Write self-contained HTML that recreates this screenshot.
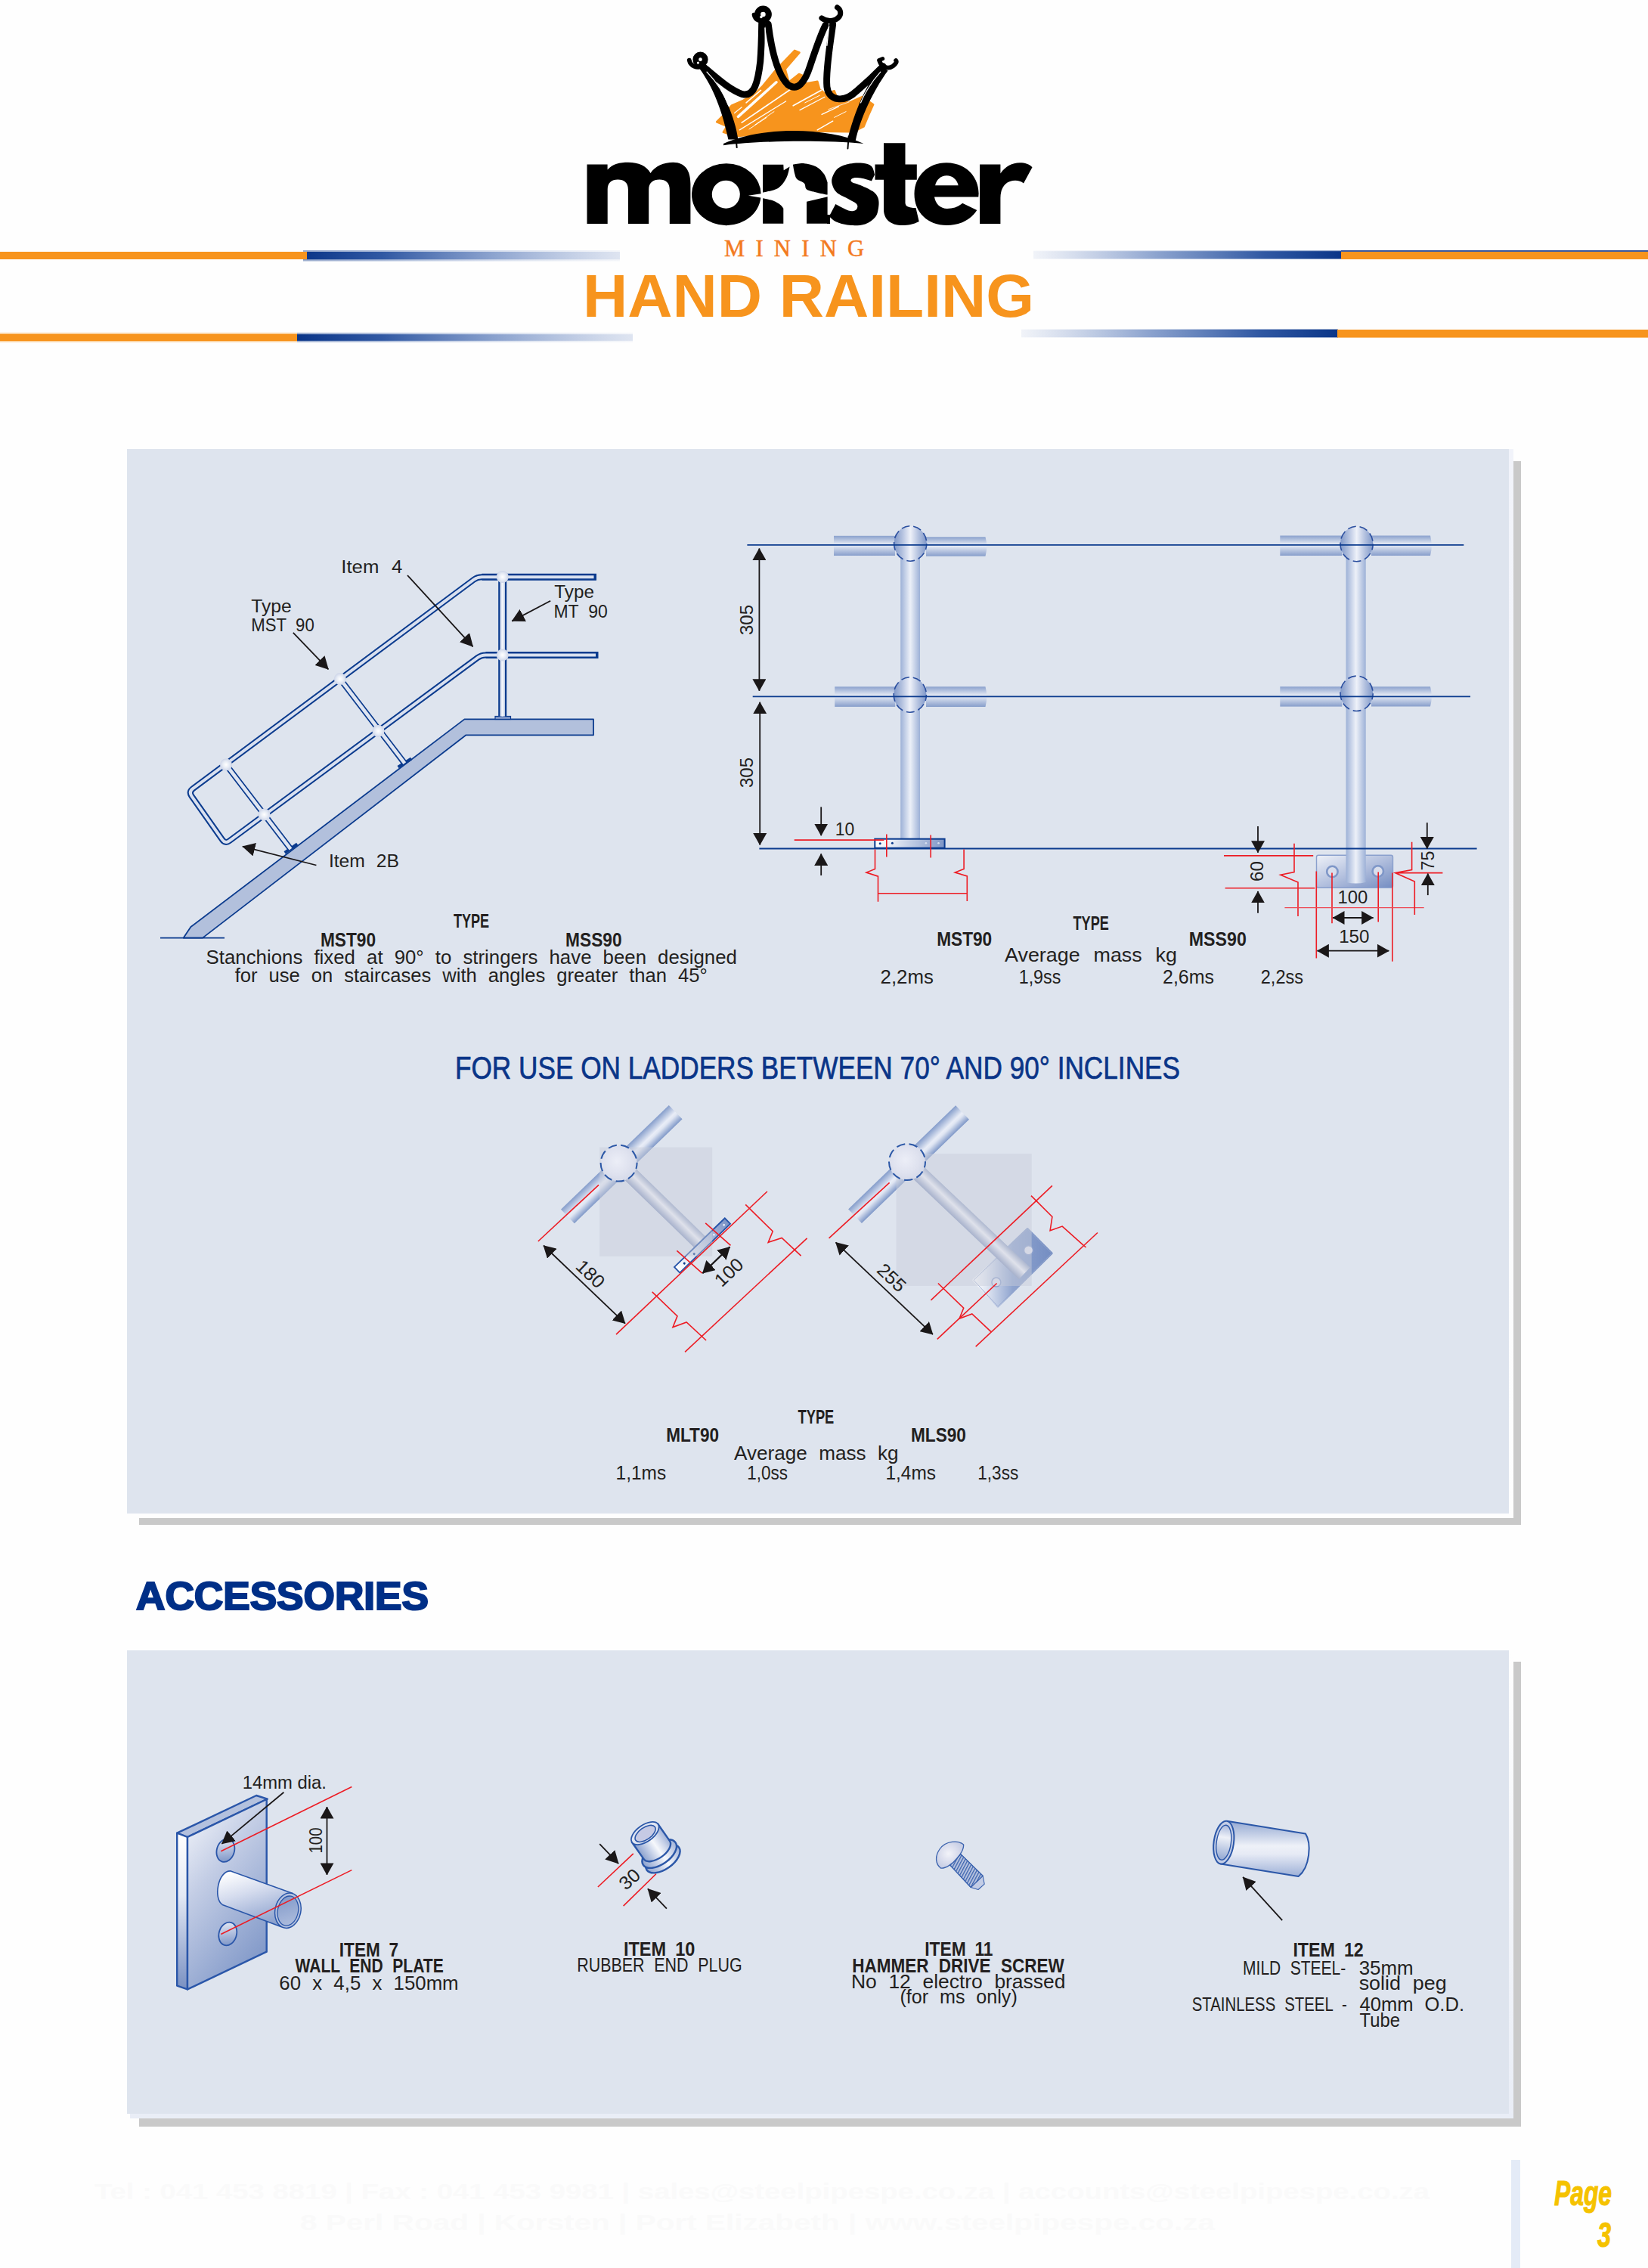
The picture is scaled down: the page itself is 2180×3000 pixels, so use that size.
<!DOCTYPE html>
<html><head><meta charset="utf-8"><title>Hand Railing</title>
<style>
html,body{margin:0;padding:0;background:#fefefe;}
body{width:2180px;height:3000px;overflow:hidden;position:relative;font-family:"Liberation Sans",sans-serif;}
svg{position:absolute;left:0;top:0;display:block;}
text{font-family:"Liberation Sans",sans-serif;fill:#231f20;}
.b{font-weight:bold;}
.red{stroke:#ed1c24;stroke-width:1.6;fill:none;}
.blk{stroke:#1a1718;stroke-width:1.8;fill:none;}
.bl{stroke:#1c3f94;fill:none;}
</style></head><body>
<svg width="2180" height="3000" viewBox="0 0 2180 3000">
<defs>
<linearGradient id="gLR" x1="0" x2="1" y1="0" y2="0"><stop offset="0" stop-color="#0a3588"/><stop offset="0.25" stop-color="#2a53a0" stop-opacity="0.95"/><stop offset="0.6" stop-color="#5b7cba" stop-opacity="0.6"/><stop offset="1" stop-color="#9db0d6" stop-opacity="0.25"/></linearGradient>
<linearGradient id="gRL" x1="1" x2="0" y1="0" y2="0"><stop offset="0" stop-color="#0a3588"/><stop offset="0.25" stop-color="#2a53a0" stop-opacity="0.95"/><stop offset="0.6" stop-color="#5b7cba" stop-opacity="0.6"/><stop offset="1" stop-color="#9db0d6" stop-opacity="0.1"/></linearGradient>
<linearGradient id="gS1" x1="0" x2="0" y1="0" y2="1"><stop offset="0" stop-color="#f1f3fa"/><stop offset="1" stop-color="#fefefe"/></linearGradient>
<linearGradient id="gS2" x1="0" x2="0" y1="0" y2="1"><stop offset="0" stop-color="#fefefe"/><stop offset="1" stop-color="#e9edf6"/></linearGradient>
</defs>

<!-- HEADER LINES -->
<g id="hdrlines">
<rect x="401" y="331" width="419" height="14.5" fill="url(#gLR)" opacity="0.4"/>
<rect x="401" y="333" width="419" height="10.2" fill="url(#gLR)"/>
<rect x="0" y="333" width="406" height="10" fill="#f7941d"/>
<rect x="393" y="440" width="444" height="12.6" fill="url(#gLR)" opacity="0.4"/>
<rect x="393" y="442.2" width="444" height="8.6" fill="url(#gLR)"/>
<rect x="0" y="440" width="393" height="12.6" fill="#fbd3a1"/>
<rect x="0" y="442" width="393" height="9" fill="#f7941d"/>
<rect x="1367" y="331" width="407" height="12" fill="url(#gRL)" opacity="0.4"/>
<rect x="1367" y="332.2" width="407" height="10" fill="url(#gRL)"/>
<rect x="1774" y="331" width="406" height="3" fill="#3a5aa0"/>
<rect x="1774" y="333" width="406" height="10" fill="#f7941d"/>
<rect x="1351" y="435" width="419" height="12" fill="url(#gRL)" opacity="0.4"/>
<rect x="1351" y="436" width="419" height="10" fill="url(#gRL)"/>
<rect x="1769" y="436" width="411" height="10.6" fill="#f7941d"/>
</g>

<!-- HEADER TEXT -->
<text x="771" y="419" font-size="80" class="b" style="fill:#f7941d" textLength="597" lengthAdjust="spacingAndGlyphs">HAND RAILING</text>
<text x="958" y="339" font-size="30.5" style="font-family:'Liberation Serif',serif;fill:#f37a1f;stroke:#f37a1f;stroke-width:0.5" textLength="185" lengthAdjust="spacing">MINING</text>

<!-- PANELS -->
<g id="panels">
<rect x="2002" y="610" width="10" height="1407" fill="#c9c9c9"/>
<rect x="184" y="2008" width="1828" height="9" fill="#c9c9c9"/>
<rect x="168" y="594" width="1828" height="1408" fill="#dee4ee"/>
<rect x="1996" y="594" width="6" height="1408" fill="url(#gS1)"/>

<rect x="2002" y="2198" width="10" height="615" fill="#c9c9c9"/>
<rect x="184" y="2802" width="1828" height="11" fill="#c9c9c9"/>
<rect x="168" y="2183" width="1828" height="613" fill="#dee4ee"/>
<rect x="1996" y="2183" width="6" height="619" fill="url(#gS2)"/>
<rect x="172" y="2796" width="1830" height="6.2" fill="#e9edf6"/>
</g>

<!-- ACCESSORIES heading -->
<text x="180" y="2129" font-size="51.5" class="b" style="fill:#002f87;stroke:#002f87;stroke-width:2.2" textLength="387" lengthAdjust="spacingAndGlyphs">ACCESSORIES</text>

<!-- FOOTER -->
<g id="foottext" font-size="29" class="b" style="fill:#f8f8f8">
<text x="125" y="2909" class="b" style="fill:#fafafa" textLength="1766" lengthAdjust="spacingAndGlyphs">Tel : 041 453 8819  |  Fax : 041 453 9981  |  sales@steelpipespe.co.za | accounts@steelpipespe.co.za</text>
<text x="397" y="2950" class="b" style="fill:#fafafa" textLength="1210" lengthAdjust="spacingAndGlyphs">8 Perl Road  |  Korsten  |  Port Elizabeth  |  www.steelpipespe.co.za</text>
</g>
<rect x="1999" y="2857" width="12" height="143" fill="#e4ebf7"/>
<text x="2132" y="2917" font-size="46" class="b" text-anchor="end" style="fill:#f5c200;font-style:italic;stroke:#f5c200;stroke-width:1.2" textLength="76" lengthAdjust="spacingAndGlyphs">Page</text>
<text x="2131" y="2972.4" font-size="46" class="b" text-anchor="end" style="fill:#f5c200;font-style:italic;stroke:#f5c200;stroke-width:1.2" textLength="18" lengthAdjust="spacingAndGlyphs">3</text>

<!--BEGIN LOGO-->
<g id="logo">
<g transform="translate(890,0) scale(0.194175)">
<path d="M300,830 L340,790 L400,720 L480,685 L560,640 L610,590 L700,480 L830,345 L862,358 L765,470 L790,560 L860,505 L895,520 L880,575 L985,555 L1000,610 L1040,640 L1100,620 L1120,670 L1200,700 L1290,660 L1365,712 L1330,790 L1300,862 L1240,892 L1200,897 L820,892 L430,928 L345,900 L370,860 Z" fill="#f7941d" stroke="#f7941d" stroke-width="14" stroke-linejoin="round"/>
<path d="M445,795 L705,560" stroke="#fefefe" stroke-width="18" stroke-linecap="round"/>
<path d="M500,700 L600,615" stroke="#fefefe" stroke-width="8" stroke-linecap="round"/>
<path d="M560,850 L690,760" stroke="#fefefe" stroke-width="5" stroke-linecap="round"/>
<path d="M900,700 L1000,650" stroke="#fefefe" stroke-width="5" stroke-linecap="round"/>
<path d="M1100,800 L1180,760" stroke="#fefefe" stroke-width="5" stroke-linecap="round"/>
<path d="M470,835 L800,610" stroke="#fefefe" stroke-width="9" stroke-linecap="round"/>
<path d="M455,885 L770,690" stroke="#fefefe" stroke-width="7" stroke-linecap="round"/>
<path d="M520,880 L640,800" stroke="#fefefe" stroke-width="5" stroke-linecap="round"/>
<path d="M820,720 L1010,615" stroke="#fefefe" stroke-width="9" stroke-linecap="round"/>
<path d="M865,750 L1035,660" stroke="#fefefe" stroke-width="6" stroke-linecap="round"/>
<path d="M1015,780 L1130,725" stroke="#fefefe" stroke-width="7" stroke-linecap="round"/>
<path d="M985,885 L1090,825" stroke="#fefefe" stroke-width="8" stroke-linecap="round"/>
<path d="M420,770 L470,730" stroke="#fefefe" stroke-width="6" stroke-linecap="round"/>
<path d="M1060,745 L1200,695" stroke="#fefefe" stroke-width="4" stroke-linecap="round"/>
<path d="M180,465 C250,560 325,700 378,950 L445,950 C425,800 345,620 228,452 Z" fill="#000"/>
<path d="M1420,452 C1325,560 1235,760 1190,955 L1245,958 C1280,800 1365,620 1465,482 Z" fill="#000"/>
<path d="M212,458 C300,530 390,615 475,642 C555,660 580,560 596,420 C604,320 605,230 606,160" fill="none" stroke="#000" stroke-width="46" stroke-linecap="round" stroke-linejoin="round"/>
<path d="M650,165 C672,340 715,510 785,578 C850,625 900,560 935,450 C975,330 1010,230 1040,172" fill="none" stroke="#000" stroke-width="46" stroke-linecap="round" stroke-linejoin="round"/>
<path d="M1090,165 C1072,300 1040,480 1050,590 C1060,690 1170,700 1250,622 C1325,558 1395,490 1432,452" fill="none" stroke="#000" stroke-width="46" stroke-linecap="round" stroke-linejoin="round"/>
<path d="M628,190 L633,330" stroke="#fefefe" stroke-width="7" stroke-linecap="round"/>
<path d="M1064,180 L1050,310" stroke="#fefefe" stroke-width="7" stroke-linecap="round"/>
<circle cx="615" cy="98" r="38" fill="none" stroke="#000" stroke-width="42"/>
<circle cx="602" cy="116" r="9" fill="#fefefe"/>
<path d="M553,100 C560,140 600,152 628,138" fill="none" stroke="#000" stroke-width="28" stroke-linecap="round"/>
<circle cx="188" cy="405" r="32" fill="none" stroke="#000" stroke-width="40"/>
<circle cx="172" cy="428" r="8" fill="#fefefe"/>
<path d="M112,410 C120,450 165,468 205,450" fill="none" stroke="#000" stroke-width="30" stroke-linecap="round"/>
<path d="M1014,123 C1050,150 1105,150 1135,112 C1150,88 1140,62 1120,50" fill="none" stroke="#000" stroke-width="36" stroke-linecap="round"/>
<path d="M1408,415 C1420,455 1465,475 1500,450 C1520,435 1528,420 1520,412" fill="none" stroke="#000" stroke-width="30" stroke-linecap="round"/>
<path d="M1405,410 L1430,400" stroke="#000" stroke-width="26" stroke-linecap="round"/>
<path d="M345,978 C600,862 1050,862 1300,978 C1050,955 600,955 345,990 Z" fill="#000"/>
<path d="M430,930 L436,1005 M1198,930 L1192,1012" stroke="#000" stroke-width="10" stroke-linecap="round"/>
<path d="M232,490 C300,560 350,640 380,720" fill="none" stroke="#fefefe" stroke-width="7" stroke-linecap="round"/>
<path d="M1415,490 C1350,560 1300,650 1280,700" fill="none" stroke="#fefefe" stroke-width="6" stroke-linecap="round"/>
</g>
<g fill="#000">
<path d="M776.5,296 V217.6 H803.6 V224.5 C810,217 820,214.8 831,214.8 C845,214.8 855,219.5 860.5,229 C867,219.5 878,214.8 890.5,214.8 C907,214.8 913.4,227 913.4,243 V296 H885.8 V250.5 C885.8,241.5 880.5,237.4 872.3,237.4 C864,237.4 858.2,241.5 858.2,250.5 V296 H830.9 V250.5 C830.9,241.5 825.5,237.4 817.3,237.4 C809,237.4 803.7,241.5 803.7,250.5 V296 Z"/>
<path fill-rule="evenodd" d="M915,257.2 a45.8,41 0 1 0 91.6,0 a45.8,41 0 1 0 -91.6,0 Z M941.8,257.2 a18.5,18.5 0 1 1 37,0 a18.5,18.5 0 1 1 -37,0 Z"/>
<path d="M989.9,258.7 L1009.3,255.8 L1009.3,261.9 Z" fill="#fefefe"/>
<path d="M1009.1,217.7 L1036.3,217.7 L1036.7,225.2 L1044.6,220.5 C1043.9,223.0 1042.8,230.8 1040.2,235.5 C1037.6,240.2 1034.4,245.7 1029.2,248.9 C1024.0,252.1 1012.5,253.8 1009.1,254.8 Z"/>
<path d="M1009.1,262.3 C1011.4,262.8 1019.0,264.1 1022.9,265.5 C1026.8,266.9 1030.1,269.3 1032.3,271.0 C1034.5,272.7 1035.6,274.9 1036.3,275.7 L1036.3,295.8 L1009.1,295.8 Z"/>
<path d="M1048.9,217.7 C1051.4,217.4 1058.8,215.7 1063.9,216.2 C1069.0,216.7 1075.4,218.2 1079.7,220.5 C1084.0,222.8 1087.4,226.6 1089.9,230.0 C1092.4,233.4 1093.8,239.2 1094.6,241.0 L1094.6,257.6 C1092.1,257.1 1084.3,255.6 1079.7,254.4 C1075.1,253.2 1069.6,252.5 1067.0,250.5 C1064.4,248.5 1066.0,244.8 1063.9,242.6 C1061.8,240.4 1056.5,239.2 1054.4,237.1 C1052.3,235.0 1052.2,233.2 1051.3,230.0 C1050.4,226.8 1049.3,219.8 1048.9,217.7 Z"/>
<path d="M1067,266.7 L1094.6,260.3 L1094.6,295.8 L1067,295.8 Z"/>
<path d="M1157.1,231.0 C1156.4,229.2 1155.6,222.5 1152.9,219.9 C1150.2,217.3 1145.8,216.3 1141.0,215.7 C1136.2,215.1 1129.4,215.4 1124.0,216.5 C1118.6,217.6 1112.5,219.5 1108.7,222.5 C1104.9,225.5 1102.3,230.7 1101.0,234.4 C1099.7,238.1 1100.0,241.2 1101.0,244.6 C1102.0,248.0 1103.5,251.7 1107.0,254.8 C1110.5,257.9 1118.0,260.9 1122.3,263.3 C1126.5,265.7 1130.5,267.4 1132.5,269.2 C1134.5,271.0 1134.5,272.8 1134.2,274.3 C1133.9,275.9 1132.8,277.8 1130.8,278.5 C1128.8,279.2 1126.5,279.9 1122.3,278.5 C1118.0,277.1 1108.1,271.4 1105.3,270.0 L1096.8,286.2 C1098.5,287.5 1102.2,291.8 1107.0,293.8 C1111.8,295.8 1119.5,297.7 1125.7,298.1 C1131.9,298.5 1139.0,298.2 1144.4,296.4 C1149.8,294.5 1155.0,290.8 1158.0,287.0 C1161.0,283.2 1161.6,277.7 1162.2,273.5 C1162.8,269.3 1162.7,265.0 1161.4,261.6 C1160.1,258.2 1158.3,255.8 1154.6,253.1 C1150.9,250.4 1143.8,247.4 1139.3,245.4 C1134.8,243.4 1129.7,242.5 1127.4,241.2 C1125.1,239.9 1125.3,238.8 1125.7,237.8 C1126.1,236.8 1127.4,235.5 1129.9,235.2 C1132.5,234.9 1137.2,235.4 1141.0,236.1 C1144.8,236.8 1150.9,238.9 1152.9,239.5 Z"/>
<path d="M1094,284 L1098,284 L1098,296 L1094,296 Z"/>
<path d="M1169,189.3 H1197.5 V217.4 H1212.8 V237.8 H1197.5 V268.4 C1198,273 1201,274.5 1211.5,275.1 L1215.7,293 C1208,297 1201,298.1 1194,298.1 C1178,298.1 1169,290 1169,277 V237.8 H1157.5 V217.4 H1169 Z"/>
<path fill-rule="evenodd" d="M1294.3,260.6 H1236 C1237.5,270 1244,276 1253,276 C1261,276 1267.5,273.5 1273.2,268.8 L1292.3,278.1 C1284,291 1270,298 1252.5,298 C1227,298 1209.5,280.5 1209.5,256.7 C1209.5,233 1227.5,215.2 1252,215.2 C1277,215.2 1294.6,233 1294.6,256 Z M1237.1,245.3 H1267.7 C1266,237.5 1260,232.2 1252.4,232.2 C1244.5,232.2 1238.8,237.5 1237.1,245.3 Z"/>
<path d="M1296.1,217.5 H1323.4 V229.5 C1330,220 1339,215.3 1349,215.3 C1356,215.3 1361.6,217 1365.5,221.3 L1354,242.6 C1351,240 1347.5,238.8 1343,238.8 C1331,238.8 1323.4,247.5 1323.4,262 V296.1 H1296.1 Z"/>
</g>
</g>
<!--END LOGO-->
<!--BEGIN DIAG1-->
<g id="diag1">
<defs>
<radialGradient id="ball"><stop offset="0" stop-color="#ffffff"/><stop offset="0.55" stop-color="#e6ebf5"/><stop offset="1" stop-color="#cdd5e8"/></radialGradient>
<marker id="ah" viewBox="0 0 17 18" refX="16.5" refY="9" markerWidth="17" markerHeight="18" markerUnits="userSpaceOnUse" orient="auto"><path d="M0,0 L17,9 L0,18 Z" fill="#1a1718"/></marker>
</defs>
<!-- stringer -->
<path d="M242.7,1240.6 L252.4,1226 L614.4,951.4 L785,951.4 L785,972.3 L616.5,972.3 L268,1240.6 Z" fill="#b2c0dc" stroke="#0b3b8e" stroke-width="1.8" stroke-linejoin="round"/>
<line x1="212" y1="1240.6" x2="297" y2="1240.6" stroke="#0b3b8e" stroke-width="1.6"/>
<!-- base plates -->
<path d="M526.6,1014.6 L544.1,1003.5" stroke="#0b3b8e" stroke-width="4"/>
<path d="M376.7,1128 L393.2,1116.3" stroke="#0b3b8e" stroke-width="4"/>
<rect x="655" y="947.5" width="20.5" height="4" fill="#7f96c6" stroke="#0b3b8e" stroke-width="1.2"/>
<!-- posts -->
<g fill="none" stroke-linecap="butt">
<path d="M449.9,898.1 L535.3,1009.7 M299,1011.5 L384.5,1123.1" stroke="#0b3b8e" stroke-width="8"/>
<path d="M449.9,898.1 L535.3,1009.7 M299,1011.5 L384.5,1123.1" stroke="#dfe5f1" stroke-width="4.6"/>
<path d="M664.7,763 L664.7,947.5" stroke="#0b3b8e" stroke-width="11"/>
<path d="M664.7,763 L664.7,947.5" stroke="#d9e0ef" stroke-width="6.4"/>
<path d="M664.7,763 L664.7,947.5" stroke="#f1f4fa" stroke-width="2.4"/>
</g>
<!-- rails -->
<g fill="none" stroke-linejoin="round">
<path d="M788,763.3 L637.3,763.3 Q631.3,763.3 626.5,766.9 L255.1,1043.2 Q249.5,1047.4 253.5,1053.1 L294,1110.6 Q298,1116.3 303.6,1112.1 L631.7,870 Q636.5,866.4 642.5,866.4 L790.5,866.4" stroke="#0b3b8e" stroke-width="8"/>
<path d="M789,763.3 L637.3,763.3 M642.5,866.4 L791.5,866.4" stroke="#0b3b8e" stroke-width="9"/>
<path d="M785.5,763.3 L637.3,763.3 Q631.3,763.3 626.5,766.9 L255.1,1043.2 Q249.5,1047.4 253.5,1053.1 L294,1110.6 Q298,1116.3 303.6,1112.1 L631.7,870 Q636.5,866.4 642.5,866.4 L788,866.4" stroke="#d9e0ef" stroke-width="4"/>
</g>
<!-- joints -->
<g fill="url(#ball)">
<circle cx="664.7" cy="763" r="8"/><circle cx="664.7" cy="866.4" r="8"/>
<circle cx="449.9" cy="898.1" r="8"/><circle cx="500.4" cy="967" r="8"/>
<circle cx="299" cy="1011.5" r="8"/><circle cx="349.5" cy="1077.5" r="8"/>
</g>
<!-- arrows -->
<g class="blk" marker-end="url(#ah)">
<path d="M539,761 L625.6,855.3"/>
<path d="M387.8,836.9 L434.4,885.4"/>
<path d="M728.2,794.8 L677.2,821.6"/>
<path d="M418.4,1144.5 L320.8,1119.6"/>
</g>
<!-- labels -->
<g font-size="24.5">
<text x="451.3" y="758.4" textLength="81" lengthAdjust="spacingAndGlyphs" style="word-spacing:9px">Item 4</text>
<text x="332.2" y="810.3" textLength="53.6" lengthAdjust="spacingAndGlyphs">Type</text>
<text x="332.2" y="834.9" textLength="83.6" lengthAdjust="spacingAndGlyphs" style="word-spacing:7px">MST 90</text>
<text x="733.3" y="791.4" textLength="52.7" lengthAdjust="spacingAndGlyphs">Type</text>
<text x="732.4" y="816.8" textLength="71.4" lengthAdjust="spacingAndGlyphs" style="word-spacing:7px">MT 90</text>
<text x="434.9" y="1146.5" textLength="93" lengthAdjust="spacingAndGlyphs" style="word-spacing:8px">Item 2B</text>
</g>
<g font-size="26">
<text class="b" x="599.9" y="1226.8" textLength="47.2" lengthAdjust="spacingAndGlyphs">TYPE</text>
<text class="b" x="423.9" y="1251.5" textLength="73.2" lengthAdjust="spacingAndGlyphs">MST90</text>
<text class="b" x="748.1" y="1251.5" textLength="74.5" lengthAdjust="spacingAndGlyphs">MSS90</text>
<text x="272.6" y="1275.3" textLength="702.3" lengthAdjust="spacingAndGlyphs" style="word-spacing:8px">Stanchions fixed at 90° to stringers have been designed</text>
<text x="310.7" y="1299.1" textLength="625" lengthAdjust="spacingAndGlyphs" style="word-spacing:8px">for use on staircases with angles greater than 45°</text>
</g>
</g>
<!--END DIAG1-->

<!--BEGIN DIAG2-->
<g id="diag2">
<defs>
<linearGradient id="gV" x1="0" x2="1" y1="0" y2="0"><stop offset="0" stop-color="#9db1d7"/><stop offset="0.5" stop-color="#ecf0f8"/><stop offset="1" stop-color="#9db1d7"/></linearGradient>
<linearGradient id="gB" x1="0" x2="1" y1="0" y2="0"><stop offset="0" stop-color="#7f97c8"/><stop offset="0.25" stop-color="#b3c1df"/><stop offset="0.5" stop-color="#eef1f9"/><stop offset="0.75" stop-color="#b3c1df"/><stop offset="1" stop-color="#7f97c8"/></linearGradient>
<linearGradient id="gH" x1="0" x2="0" y1="0" y2="1"><stop offset="0" stop-color="#8aa1cd"/><stop offset="0.45" stop-color="#e9edf6"/><stop offset="1" stop-color="#879ecb"/></linearGradient>
<linearGradient id="gPl" x1="0" x2="1" y1="0" y2="0"><stop offset="0" stop-color="#ffffff"/><stop offset="0.25" stop-color="#e6ebf5"/><stop offset="1" stop-color="#7d95c6"/></linearGradient>
<linearGradient id="gPl2" x1="0" x2="1" y1="0" y2="1"><stop offset="0" stop-color="#eef1f8"/><stop offset="0.5" stop-color="#b3c0de"/><stop offset="1" stop-color="#748dc2"/></linearGradient>
<marker id="ah2" viewBox="0 0 16 18" refX="15.5" refY="9" markerWidth="16" markerHeight="18" markerUnits="userSpaceOnUse" orient="auto-start-reverse"><path d="M0,0 L16,9 L0,18 Z" fill="#1a1718"/></marker>
</defs>
<!-- left stanchion -->
<rect x="1103" y="708.8" width="81" height="26.2" fill="url(#gH)"/>
<path d="M1225,710.2 H1303.5 Q1307,723 1303.5,735.8 H1225 Z" fill="url(#gH)"/>
<rect x="1104.2" y="908.3" width="80" height="26.6" fill="url(#gH)"/>
<path d="M1225,908.3 H1303.5 Q1307,921.5 1303.5,934.9 H1225 Z" fill="url(#gH)"/>
<rect x="1191.2" y="725" width="25.8" height="385" fill="url(#gV)"/>
<ellipse cx="1204.2" cy="719" rx="21.6" ry="23.2" fill="url(#gB)" stroke="#2b4f9f" stroke-width="1.6" stroke-dasharray="11 5" stroke-dashoffset="3"/>
<ellipse cx="1203.8" cy="919" rx="21.6" ry="23.2" fill="url(#gB)" stroke="#2b4f9f" stroke-width="1.6" stroke-dasharray="11 5" stroke-dashoffset="3"/>
<rect x="1157.3" y="1109.7" width="92.3" height="12" fill="url(#gPl)" stroke="#0b3b8e" stroke-width="2"/>
<g fill="#0b3b8e"><circle cx="1164.2" cy="1115.8" r="1.5"/><circle cx="1180.4" cy="1115.2" r="1.5"/></g>
<g fill="#d7deee"><circle cx="1224.9" cy="1115.2" r="1.3"/><circle cx="1241.5" cy="1115.2" r="1.3"/></g>
<!-- right stanchion -->
<rect x="1693.3" y="708.5" width="82" height="26.5" fill="url(#gH)"/>
<path d="M1814,708.5 H1892 Q1895.5,722 1892,735 H1814 Z" fill="url(#gH)"/>
<rect x="1693.3" y="908.2" width="82" height="26.4" fill="url(#gH)"/>
<path d="M1814,908.2 H1892 Q1895.5,921.5 1892,934.6 H1814 Z" fill="url(#gH)"/>
<rect x="1741.5" y="1131.2" width="101" height="43" rx="2.5" fill="url(#gPl2)" stroke="#8aa0cd" stroke-width="1.4"/>
<circle cx="1762.4" cy="1153" r="7.2" fill="#d9deec" stroke="#7f97c8" stroke-width="2.6"/>
<circle cx="1822.8" cy="1152.5" r="7.2" fill="#d9deec" stroke="#7f97c8" stroke-width="2.6"/>
<path d="M1780.5,725 H1806.7 V1167 Q1793.6,1170 1780.5,1167 Z" fill="url(#gV)"/>
<ellipse cx="1794.6" cy="719.5" rx="21.6" ry="23.2" fill="url(#gB)" stroke="#2b4f9f" stroke-width="1.6" stroke-dasharray="11 5" stroke-dashoffset="3"/>
<ellipse cx="1794.6" cy="917.3" rx="21.6" ry="23.2" fill="url(#gB)" stroke="#2b4f9f" stroke-width="1.6" stroke-dasharray="11 5" stroke-dashoffset="3"/>
<!-- blue level lines -->
<g stroke="#0b3b8e" stroke-width="1.7">
<line x1="988.4" y1="720.8" x2="1936.3" y2="720.8"/>
<line x1="995.7" y1="921.3" x2="1945" y2="921.3"/>
<line x1="1004.4" y1="1122.5" x2="1953.6" y2="1122.5" stroke-width="2.1"/>
</g>
<!-- red dims left -->
<g class="red">
<path d="M1050.7,1111.1 H1169.4 M1172.8,1103.6 V1133.6 M1231.2,1104.4 V1134.4"/>
<path d="M1157.5,1123.4 V1149.4 L1146,1154.1 L1161.5,1159.2 V1192.8 M1275.1,1123.4 V1149.4 L1263.3,1154.1 L1279.3,1158.9 V1192 M1161.5,1181.7 H1279.3"/>
</g>
<!-- red dims right -->
<g class="red">
<path d="M1619,1131.9 H1737.2 M1620.6,1174.8 H1739.3"/>
<path d="M1712,1115.8 V1153.6 L1693.9,1157.3 L1717,1167 V1211.9"/>
<path d="M1741.3,1152.5 V1267.6 M1762,1154.6 V1221.2 M1823.2,1153.6 V1219.6 M1841.8,1154.6 V1271.8"/>
<path d="M1699.4,1200.6 H1883.7" stroke-width="1.1" stroke="#ee4a55"/>
<path d="M1867.6,1113.7 V1150.5 L1845.5,1154.6 L1871.3,1165.9 V1209.9 M1845.5,1154.6 H1908.4"/>
</g>
<!-- black dim arrows -->
<g class="blk">
<path d="M1004.4,725.5 V913.8" marker-start="url(#ah2)" marker-end="url(#ah2)"/>
<path d="M1005.2,928.7 V1117.6" marker-start="url(#ah2)" marker-end="url(#ah2)"/>
<path d="M1086.2,1067.4 V1105.2" marker-end="url(#ah2)"/>
<path d="M1086.2,1158 V1129.4" marker-end="url(#ah2)"/>
<path d="M1664,1093.1 V1127.8" marker-end="url(#ah2)"/>
<path d="M1664,1207.8 V1178.9" marker-end="url(#ah2)"/>
<path d="M1887.8,1088.2 V1122.6" marker-end="url(#ah2)"/>
<path d="M1888.8,1184.1 V1155.6" marker-end="url(#ah2)"/>
<path d="M1763,1214 H1816.6" marker-start="url(#ah2)" marker-end="url(#ah2)"/>
<path d="M1742.4,1257.7 H1837.3" marker-start="url(#ah2)" marker-end="url(#ah2)"/>
</g>
<!-- dim text -->
<g font-size="24.5">
<text transform="translate(996,840) rotate(-90)" textLength="40" lengthAdjust="spacingAndGlyphs">305</text>
<text transform="translate(996,1042) rotate(-90)" textLength="40" lengthAdjust="spacingAndGlyphs">305</text>
<text x="1104.7" y="1105.2" textLength="25.5" lengthAdjust="spacingAndGlyphs">10</text>
<text transform="translate(1671.2,1165.9) rotate(-90)" textLength="26.8" lengthAdjust="spacingAndGlyphs">60</text>
<text transform="translate(1897.1,1151.5) rotate(-90)" textLength="25.8" lengthAdjust="spacingAndGlyphs">75</text>
<text x="1769.6" y="1194.8" textLength="39.8" lengthAdjust="spacingAndGlyphs">100</text>
<text x="1771.2" y="1246.8" textLength="40.3" lengthAdjust="spacingAndGlyphs">150</text>
</g>
<!-- captions -->
<g font-size="26">
<text class="b" x="1419.5" y="1229.8" textLength="47.3" lengthAdjust="spacingAndGlyphs">TYPE</text>
<text class="b" x="1239.2" y="1250.7" textLength="73" lengthAdjust="spacingAndGlyphs">MST90</text>
<text class="b" x="1572.8" y="1250.5" textLength="76" lengthAdjust="spacingAndGlyphs">MSS90</text>
<text x="1329" y="1271.5" textLength="228" lengthAdjust="spacingAndGlyphs" style="word-spacing:10px">Average mass kg</text>
<text x="1164.6" y="1300.5" textLength="70.3" lengthAdjust="spacingAndGlyphs">2,2ms</text>
<text x="1347.7" y="1300.5" textLength="55.7" lengthAdjust="spacingAndGlyphs">1,9ss</text>
<text x="1538" y="1300.5" textLength="68" lengthAdjust="spacingAndGlyphs">2,6ms</text>
<text x="1667.8" y="1300.5" textLength="56.2" lengthAdjust="spacingAndGlyphs">2,2ss</text>
</g>
</g>
<!--END DIAG2-->
<!--BEGIN DIAG3-->
<g id="diag3">
<defs>
<linearGradient id="gT" x1="0" x2="0" y1="0" y2="1"><stop offset="0" stop-color="#859dcb"/><stop offset="0.5" stop-color="#e9edf7"/><stop offset="0.62" stop-color="#dfe5f2"/><stop offset="1" stop-color="#7f98c8"/></linearGradient>
<linearGradient id="gP" x1="0" x2="0" y1="0" y2="1"><stop offset="0" stop-color="#9aa8c8"/><stop offset="0.45" stop-color="#f2f3f9"/><stop offset="1" stop-color="#8c9bc0"/></linearGradient>
<radialGradient id="ball2" cx="0.45" cy="0.45" r="0.6"><stop offset="0" stop-color="#eceef7"/><stop offset="0.6" stop-color="#dfe2ef"/><stop offset="1" stop-color="#d3d8e8"/></radialGradient>
<linearGradient id="gPl3" x1="0" x2="1" y1="0" y2="0"><stop offset="0" stop-color="#ffffff"/><stop offset="0.3" stop-color="#dde3f1"/><stop offset="1" stop-color="#7b93c6"/></linearGradient>
<linearGradient id="gPl4" x1="0" x2="1" y1="0" y2="0"><stop offset="0" stop-color="#ffffff"/><stop offset="0.15" stop-color="#e4e9f4"/><stop offset="0.5" stop-color="#8fa4cf"/><stop offset="1" stop-color="#748dc2"/></linearGradient>
</defs>
<text x="602" y="1426.5" font-size="42" style="fill:#0a3588;stroke:#0a3588;stroke-width:0.7" textLength="959" lengthAdjust="spacingAndGlyphs">FOR USE ON LADDERS BETWEEN 70° AND 90° INCLINES</text>

<!-- left unit -->
<g transform="translate(750.9,1609) rotate(-44)"><rect x="0" y="-12.8" width="198.5" height="25.6" fill="url(#gT)"/></g>
<g transform="translate(818.6,1538.6) rotate(44.2)"><rect x="0" y="-10.5" width="150" height="21" fill="url(#gP)"/></g>
<g transform="translate(892,1676.1) rotate(-44.1)"><rect x="0" y="0" width="93" height="10.4" fill="url(#gPl3)" stroke="#2452a8" stroke-width="1.8"/>
<circle cx="13" cy="5.6" r="1.5" fill="#0b3b8e"/><circle cx="31" cy="5.6" r="1.5" fill="#0b3b8e"/><circle cx="67.5" cy="5.6" r="1.4" fill="#e8ecf6"/><circle cx="86" cy="5.6" r="1.4" fill="#e8ecf6"/></g>
<rect x="793.1" y="1517.5" width="149.1" height="144.3" fill="#c9ccd9" fill-opacity="0.46"/>
<circle cx="818.6" cy="1538.6" r="24" fill="url(#ball2)" stroke="#2b57a6" stroke-width="2" stroke-dasharray="11.5 5.5" stroke-dashoffset="4"/>
<g class="red">
<path d="M711.8,1642 L792,1567.4"/>
<path d="M815,1765.2 L1014.9,1576"/>
<path d="M906.1,1788.3 L1067.6,1637.8"/>
<path d="M933.2,1617.8 L966.5,1647.4 M895.4,1654.4 L928.8,1684.2"/>
<path d="M986.2,1593.4 L1022.2,1628.7 L1016.2,1643.4 L1034.2,1637.4 L1059.6,1661.1"/>
<path d="M862.7,1708.9 L896,1740.9 L890,1755.6 L908.1,1748.9 L934.1,1773"/>
</g>
<g class="blk">
<path d="M719,1647.5 L827,1750.7" marker-start="url(#ah2)" marker-end="url(#ah2)"/>
<path d="M929.4,1684.2 L965.5,1649.4" marker-start="url(#ah2)" marker-end="url(#ah2)" stroke-width="2.2"/>
</g>
<text font-size="24.5" transform="translate(781,1685) rotate(43.6)" text-anchor="middle" y="8.5" textLength="42" lengthAdjust="spacingAndGlyphs">180</text>
<text font-size="24.5" transform="translate(964.1,1682.8) rotate(-43.5)" text-anchor="middle" y="8.5" textLength="42" lengthAdjust="spacingAndGlyphs">100</text>

<!-- right unit -->
<g transform="translate(1131,1608.7) rotate(-44)"><rect x="0" y="-12.8" width="197.5" height="25.6" fill="url(#gT)"/></g>
<path d="M1359.1,1625.6 L1391.2,1657.7 L1320,1728.2 L1287.9,1693.3 Z" fill="url(#gPl4)" stroke="url(#gPl4)" stroke-width="3" stroke-linejoin="round"/>
<path d="M1359.1,1625.6 L1391.2,1657.7 L1320,1728.2 L1287.9,1693.3 Z" fill="none" stroke="#93a5cc" stroke-width="1" stroke-linejoin="round" stroke-opacity="0.8"/>
<circle cx="1360.5" cy="1653.8" r="6" fill="#dfe1ee" stroke="#8ea2cd" stroke-width="1.5"/>
<circle cx="1317.9" cy="1696.1" r="6" fill="#dfe1ee" stroke="#8ea2cd" stroke-width="1.5"/>
<g transform="translate(1200,1537) rotate(43.5)"><rect x="0" y="-10.8" width="214" height="21.6" fill="url(#gP)"/></g>
<rect x="1185.6" y="1526" width="179.1" height="175" fill="#c9ccd9" fill-opacity="0.46"/>
<circle cx="1200" cy="1537" r="24" fill="url(#ball2)" stroke="#2b57a6" stroke-width="2" stroke-dasharray="11.5 5.5" stroke-dashoffset="4"/>
<g class="red">
<path d="M1096.5,1637.8 L1176.6,1564.3"/>
<path d="M1231.4,1719.8 L1391.9,1568.4"/>
<path d="M1290.7,1781.2 L1451.9,1630.5"/>
<path d="M1239.8,1771.4 L1318.6,1697.5"/>
<path d="M1364,1581.6 L1391.9,1609.5 L1389.1,1627.7 L1405.2,1622.1 L1433.1,1647.2 L1436.6,1650"/>
<path d="M1240.9,1697.5 L1274.7,1730.3 L1269.1,1744.2 L1285.8,1738 L1311,1761.7"/>
</g>
<g class="blk">
<path d="M1105.5,1643.4 L1234,1765.2" marker-start="url(#ah2)" marker-end="url(#ah2)"/>
</g>
<text font-size="24.5" transform="translate(1179.5,1690) rotate(43.6)" text-anchor="middle" y="8.5" textLength="42" lengthAdjust="spacingAndGlyphs">255</text>

<!-- captions -->
<g font-size="26">
<text class="b" x="1055.6" y="1883" textLength="47.7" lengthAdjust="spacingAndGlyphs">TYPE</text>
<text class="b" x="881.2" y="1907.2" textLength="69.8" lengthAdjust="spacingAndGlyphs">MLT90</text>
<text class="b" x="1204.9" y="1907.2" textLength="73.1" lengthAdjust="spacingAndGlyphs">MLS90</text>
<text x="971" y="1931" textLength="217.5" lengthAdjust="spacingAndGlyphs" style="word-spacing:8px">Average mass kg</text>
<text x="814.6" y="1957" textLength="66.6" lengthAdjust="spacingAndGlyphs">1,1ms</text>
<text x="988.3" y="1957" textLength="53.7" lengthAdjust="spacingAndGlyphs">1,0ss</text>
<text x="1171.4" y="1957" textLength="66.6" lengthAdjust="spacingAndGlyphs">1,4ms</text>
<text x="1293.3" y="1957" textLength="53.9" lengthAdjust="spacingAndGlyphs">1,3ss</text>
</g>
</g>
<!--END DIAG3-->
<!--BEGIN ACC-->
<g id="acc">
<defs>
<linearGradient id="aFace" x1="0.2" x2="0.7" y1="0" y2="1"><stop offset="0" stop-color="#eef1f8"/><stop offset="0.35" stop-color="#c3cde5"/><stop offset="1" stop-color="#7e96c7"/></linearGradient>
<linearGradient id="aEdge" x1="0" x2="0" y1="0" y2="1"><stop offset="0" stop-color="#ffffff"/><stop offset="0.4" stop-color="#e3e8f4"/><stop offset="1" stop-color="#7990c2"/></linearGradient>
<linearGradient id="aTube" x1="0.2" x2="0.6" y1="0" y2="1"><stop offset="0" stop-color="#ffffff"/><stop offset="0.4" stop-color="#d5dcee"/><stop offset="1" stop-color="#8aa0cd"/></linearGradient>
<linearGradient id="aHole" x1="0.3" x2="0.6" y1="0" y2="1"><stop offset="0" stop-color="#e4e9f4"/><stop offset="0.5" stop-color="#b1bfde"/><stop offset="1" stop-color="#7f97c8"/></linearGradient>
<linearGradient id="aIn" x1="0" x2="0.4" y1="0" y2="1"><stop offset="0" stop-color="#7f97c8"/><stop offset="1" stop-color="#a9b9db"/></linearGradient>
<linearGradient id="pBody" x1="0" x2="1" y1="0" y2="0"><stop offset="0" stop-color="#8ba1ce"/><stop offset="0.3" stop-color="#c4cfe7"/><stop offset="0.55" stop-color="#f6f8fc"/><stop offset="0.8" stop-color="#c9d3e9"/><stop offset="1" stop-color="#9fb1d7"/></linearGradient>
<linearGradient id="t12" x1="0" x2="0" y1="0" y2="1"><stop offset="0" stop-color="#93a8d2"/><stop offset="0.45" stop-color="#eef1f8"/><stop offset="0.6" stop-color="#e6eaf5"/><stop offset="1" stop-color="#9db0d7"/></linearGradient>
<linearGradient id="t12in" x1="0" x2="0" y1="0" y2="1"><stop offset="0" stop-color="#a9b9dc"/><stop offset="0.35" stop-color="#eef1f8"/><stop offset="1" stop-color="#93a8d2"/></linearGradient>
<radialGradient id="scrH" cx="0.45" cy="0.45" r="0.6"><stop offset="0" stop-color="#f2f3f9"/><stop offset="0.5" stop-color="#dcdfee"/><stop offset="1" stop-color="#c4cbe3"/></radialGradient>
<pattern id="hatch" width="3.4" height="8" patternUnits="userSpaceOnUse" patternTransform="rotate(28)"><rect width="3.4" height="8" fill="#b7c3df"/><rect width="1.3" height="8" fill="#3a62ae"/></pattern>
</defs>

<!-- ITEM 7 -->
<g stroke="#2a56a9" stroke-width="2.4" stroke-linejoin="round">
<path d="M234.2,2424.7 L339.1,2375 L353.8,2379.7 L248,2430 Z" fill="#b4c1de"/>
<path d="M234.2,2424.7 L248,2430 L248,2631.4 L234.2,2626.6 Z" fill="url(#aEdge)"/>
<path d="M248,2430 L352.7,2380 L352.7,2581.7 L248,2631.4 Z" fill="url(#aFace)"/>
</g>
<g stroke="#2a56a9" stroke-width="1.8">
<ellipse cx="298.4" cy="2447.6" rx="11.6" ry="15.6" transform="rotate(17 298.4 2447.6)" fill="url(#aHole)"/>
<ellipse cx="301.3" cy="2558" rx="11.6" ry="15.6" transform="rotate(17 301.3 2558)" fill="url(#aHole)"/>
</g>
<path d="M305.2,2474.9 L387.2,2504.4 L371.5,2548.5 L294.2,2519.4 C282,2512 288,2474 305.2,2474.9 Z" fill="url(#aTube)" stroke="#2a56a9" stroke-width="1.6" stroke-linejoin="round"/>
<ellipse cx="380.9" cy="2527.2" rx="17" ry="23.4" transform="rotate(12 380.9 2527.2)" fill="#b5c2df" stroke="#2a56a9" stroke-width="1.5"/>
<ellipse cx="380.9" cy="2527.6" rx="13.6" ry="19.8" transform="rotate(12 380.9 2527.6)" fill="url(#aIn)" stroke="#2a56a9" stroke-width="1.3"/>
<g class="red"><path d="M292.3,2448.7 L465.3,2363.5 M292.3,2558.5 L465.3,2473.6"/></g>
<g class="blk">
<path d="M375.4,2370.7 L293.4,2438.9" marker-end="url(#ah)"/>
<path d="M432.5,2390 V2479.9" marker-start="url(#ah2)" marker-end="url(#ah2)"/>
</g>
<text font-size="23.5" x="320.8" y="2366" textLength="111" lengthAdjust="spacingAndGlyphs">14mm dia.</text>
<text font-size="24.5" transform="translate(425.9,2451.5) rotate(-90)" textLength="34" lengthAdjust="spacingAndGlyphs">100</text>
<g font-size="25.5">
<text class="b" x="448.8" y="2588.3" textLength="78.2" lengthAdjust="spacingAndGlyphs" style="word-spacing:6px">ITEM 7</text>
<text class="b" x="390.5" y="2608.8" textLength="196.3" lengthAdjust="spacingAndGlyphs" style="word-spacing:8px">WALL END PLATE</text>
<text x="369.3" y="2631.8" textLength="237.3" lengthAdjust="spacingAndGlyphs" style="word-spacing:8px">60 x 4,5 x 150mm</text>
</g>

<!-- ITEM 10 -->
<g transform="translate(853.3,2425) rotate(-35)" stroke="#2b57a8" stroke-width="2.4">
<ellipse cx="0" cy="41" rx="26" ry="14" fill="url(#pBody)"/>
<ellipse cx="0" cy="33" rx="26" ry="14" fill="url(#pBody)"/>
<path d="M-21,0 V27 A21,11 0 0 0 21,27 V0 Z" fill="url(#pBody)"/>
<ellipse cx="0" cy="0" rx="21" ry="11" fill="#dfe5f3" stroke-width="1.8"/>
<ellipse cx="0" cy="0.5" rx="15.5" ry="8" fill="#c6cae4" stroke-width="1.6"/>
</g>
<g class="red"><path d="M790.9,2496 L837.8,2451.9 M824.6,2521.1 L867.8,2478.7"/></g>
<g class="blk" stroke-width="2.2">
<path d="M793.2,2439.1 L818.2,2465.1" marker-end="url(#ah)"/>
<path d="M881.9,2524.7 L856.9,2498.3" marker-end="url(#ah)"/>
</g>
<text font-size="24.5" transform="translate(832.8,2485.6) rotate(-42)" text-anchor="middle" y="8.5" textLength="28" lengthAdjust="spacingAndGlyphs">30</text>
<g font-size="25.5">
<text class="b" x="824.9" y="2587" textLength="94.6" lengthAdjust="spacingAndGlyphs" style="word-spacing:6px">ITEM 10</text>
<text x="763.2" y="2608" textLength="218.5" lengthAdjust="spacingAndGlyphs" style="word-spacing:8px">RUBBER END PLUG</text>
</g>

<!-- ITEM 11 -->
<path d="M1271,2452.8 L1300.1,2481.3 L1302.2,2492.2 L1294,2499.5 L1284.3,2496.5 L1256.4,2466.7 Z" fill="#c3cde6" stroke="#3a62ae" stroke-width="1.1" stroke-linejoin="round"/>
<path d="M1271,2452.8 L1300.1,2481.3 L1284.3,2496.5 L1256.4,2466.7 Z" fill="url(#hatch)" stroke="#3a62ae" stroke-width="1.3" stroke-linejoin="round"/>
<path d="M1274.6,2440 C1268,2434 1251,2434.5 1243,2446 C1236,2456 1238,2466 1244.3,2471 C1250,2472 1260,2466 1266,2458 C1272,2451 1275,2445 1274.6,2440 Z" fill="url(#scrH)" stroke="#3a62ae" stroke-width="1.3"/>
<g font-size="25.5">
<text class="b" x="1223.2" y="2587.3" textLength="90.3" lengthAdjust="spacingAndGlyphs" style="word-spacing:6px">ITEM 11</text>
<text class="b" x="1127.3" y="2608.8" textLength="280.4" lengthAdjust="spacingAndGlyphs" style="word-spacing:8px">HAMMER DRIVE SCREW</text>
<text x="1126" y="2629.5" textLength="283.4" lengthAdjust="spacingAndGlyphs" style="word-spacing:8px">No 12 electro brassed</text>
<text x="1190.4" y="2650" textLength="155.4" lengthAdjust="spacingAndGlyphs" style="word-spacing:8px">(for ms only)</text>
</g>

<!-- ITEM 12 -->
<path d="M1622.8,2408.8 L1726.9,2425.4 C1735,2438 1733,2470 1717.6,2482 L1614.8,2465.4 Z" fill="url(#t12)" stroke="#2b57a8" stroke-width="2" stroke-linejoin="round"/>
<ellipse cx="1618.8" cy="2437.2" rx="13.2" ry="28.6" transform="rotate(8 1618.8 2437.2)" fill="#c3cde6" stroke="#2b57a8" stroke-width="2"/>
<ellipse cx="1618.8" cy="2437.2" rx="9.6" ry="23.2" transform="rotate(8 1618.8 2437.2)" fill="url(#t12in)" stroke="#2b57a8" stroke-width="1.4"/>
<g class="blk" stroke-width="2"><path d="M1696.2,2540.2 L1644.1,2482.8" marker-end="url(#ah)"/></g>
<g font-size="25.5">
<text class="b" x="1710.4" y="2588" textLength="93.4" lengthAdjust="spacingAndGlyphs" style="word-spacing:6px">ITEM 12</text>
<text x="1644.1" y="2611.8" textLength="136.2" lengthAdjust="spacingAndGlyphs" style="word-spacing:8px">MILD STEEL-</text>
<text x="1797.7" y="2611.8" textLength="72" lengthAdjust="spacingAndGlyphs">35mm</text>
<text x="1797.7" y="2632" textLength="116" lengthAdjust="spacingAndGlyphs" style="word-spacing:8px">solid peg</text>
<text x="1576.8" y="2660.2" textLength="205" lengthAdjust="spacingAndGlyphs" style="word-spacing:8px">STAINLESS STEEL -</text>
<text x="1798.5" y="2660.2" textLength="138.5" lengthAdjust="spacingAndGlyphs" style="word-spacing:8px">40mm O.D.</text>
<text x="1798.5" y="2681" textLength="53.4" lengthAdjust="spacingAndGlyphs">Tube</text>
</g>
</g>
<!--END ACC-->
</svg>
</body></html>
